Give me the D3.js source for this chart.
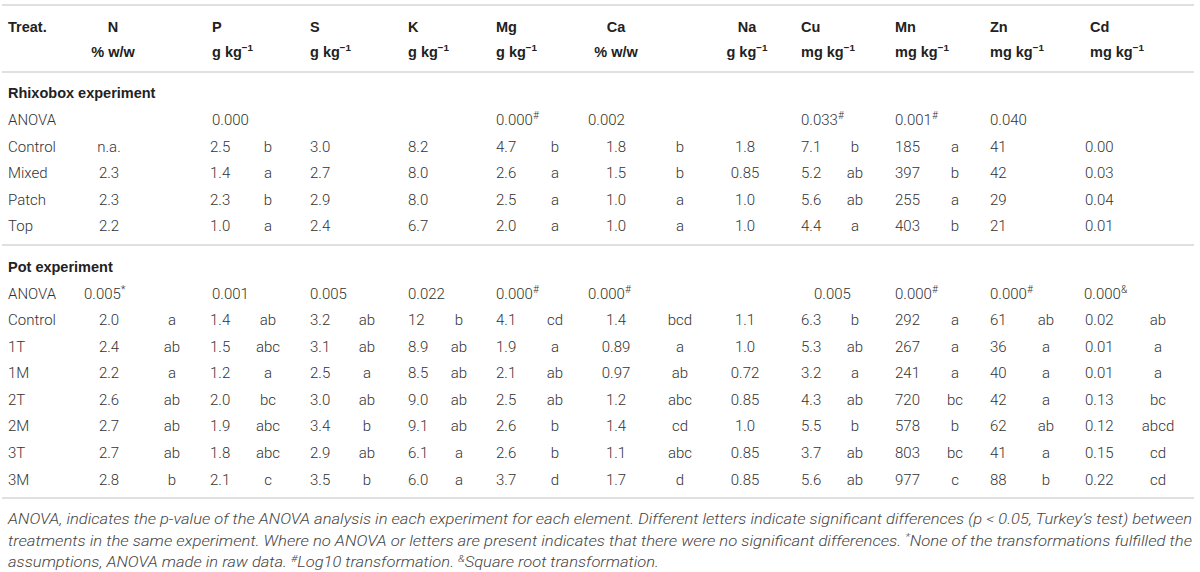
<!DOCTYPE html>
<html>
<head>
<meta charset="utf-8">
<script src="https://cdn.jsdelivr.net/npm/d3@7"></script>
<style>
  body { margin: 0; background: #fff; }
  svg { display: block; }
</style>
</head>
<body>
<div id="chart"></div>
<script>
// ---- data ----
const elements = ['N', 'P', 'S', 'K', 'Mg', 'Ca', 'Na', 'Cu', 'Mn', 'Zn', 'Cd'];
const units = ['% w/w', 'g kg^{−1}', 'g kg^{−1}', 'g kg^{−1}', 'g kg^{−1}', '% w/w', 'g kg^{−1}', 'mg kg^{−1}', 'mg kg^{−1}', 'mg kg^{−1}', 'mg kg^{−1}'];

const rhizoTreatments = ['Control', 'Mixed', 'Patch', 'Top'];
const rhizoAnova = ['', '0.000', '', '', '0.000^{#}', '0.002', '', '0.033^{#}', '0.001^{#}', '0.040', ''];
const rhizoValues = [
  ['n.a.', '2.5', '3.0', '8.2', '4.7', '1.8', '1.8', '7.1', '185', '41', '0.00'],
  ['2.3', '1.4', '2.7', '8.0', '2.6', '1.5', '0.85', '5.2', '397', '42', '0.03'],
  ['2.3', '2.3', '2.9', '8.0', '2.5', '1.0', '1.0', '5.6', '255', '29', '0.04'],
  ['2.2', '1.0', '2.4', '6.7', '2.0', '1.0', '1.0', '4.4', '403', '21', '0.01']
];
const rhizoLetters = [
  ['', 'b', '', '', 'b', 'b', '', 'b', 'a', '', ''],
  ['', 'a', '', '', 'a', 'b', '', 'ab', 'b', '', ''],
  ['', 'b', '', '', 'a', 'a', '', 'ab', 'a', '', ''],
  ['', 'a', '', '', 'a', 'a', '', 'a', 'b', '', '']
];

const potTreatments = ['Control', '1T', '1M', '2T', '2M', '3T', '3M'];
const potAnova = ['0.005^{*}', '0.001', '0.005', '0.022', '0.000^{#}', '0.000^{#}', '', '0.005', '0.000^{#}', '0.000^{#}', '0.000^{&}'];
const potValues = [
  ['2.0', '1.4', '3.2', '12', '4.1', '1.4', '1.1', '6.3', '292', '61', '0.02'],
  ['2.4', '1.5', '3.1', '8.9', '1.9', '0.89', '1.0', '5.3', '267', '36', '0.01'],
  ['2.2', '1.2', '2.5', '8.5', '2.1', '0.97', '0.72', '3.2', '241', '40', '0.01'],
  ['2.6', '2.0', '3.0', '9.0', '2.5', '1.2', '0.85', '4.3', '720', '42', '0.13'],
  ['2.7', '1.9', '3.4', '9.1', '2.6', '1.4', '1.0', '5.5', '578', '62', '0.12'],
  ['2.7', '1.8', '2.9', '6.1', '2.6', '1.1', '0.85', '3.7', '803', '41', '0.15'],
  ['2.8', '2.1', '3.5', '6.0', '3.7', '1.7', '0.85', '5.6', '977', '88', '0.22']
];
const potLetters = [
  ['a', 'ab', 'ab', 'b', 'cd', 'bcd', '', 'b', 'a', 'ab', 'ab'],
  ['ab', 'abc', 'ab', 'ab', 'a', 'a', '', 'ab', 'a', 'a', 'a'],
  ['a', 'a', 'a', 'ab', 'ab', 'ab', '', 'a', 'a', 'a', 'a'],
  ['ab', 'bc', 'ab', 'ab', 'ab', 'abc', '', 'ab', 'bc', 'a', 'bc'],
  ['ab', 'abc', 'b', 'ab', 'b', 'cd', '', 'b', 'b', 'ab', 'abcd'],
  ['ab', 'abc', 'ab', 'a', 'b', 'abc', '', 'ab', 'bc', 'a', 'cd'],
  ['b', 'c', 'b', 'a', 'd', 'd', '', 'ab', 'c', 'b', 'cd']
];

const captionLines = [
  'ANOVA, indicates the p-value of the ANOVA analysis in each experiment for each element. Different letters indicate significant differences (p < 0.05, Turkey\u2019s test) between',
  'treatments in the same experiment. Where no ANOVA or letters are present indicates that there were no significant differences. ^{*}None of the transformations fulfilled the',
  'assumptions, ANOVA made in raw data. ^{#}Log10 transformation. ^{&}Square root transformation.'
];

// ---- layout ----
const W = 1200, H = 572;
const bodyFont = 'Roboto, "Liberation Sans", sans-serif';
const headFont = '"Liberation Sans", Arial, sans-serif';
const textColor = '#333';

const cols = d3.range(elements.length);
const headX = d3.scaleOrdinal().domain(cols).range([113, 212, 310, 408, 496, 616, 747, 801, 895, 990, 1090]);
const headAnchor = d3.scaleOrdinal().domain(cols).range(['middle', 'start', 'start', 'start', 'start', 'middle', 'middle', 'start', 'start', 'start', 'start']);
const valueX = d3.scaleOrdinal().domain(cols).range([109, 210, 310, 408, 496, 616, 745, 801, 895, 990, 1085]);
const letterX = d3.scaleOrdinal().domain(cols).range([172, 268, 367, 459, 555, 680, 0, 855, 955, 1046, 1158]);
const rhizoAnovaX = d3.scaleOrdinal().domain(cols).range([84, 212, 310, 408, 496, 588, 0, 801, 895, 990, 1084]);
const potAnovaX = d3.scaleOrdinal().domain(cols).range([84, 212, 310, 408, 496, 588, 0, 814, 895, 990, 1084]);

const rowStep = d3.scaleLinear().domain([0, 1]).range([0, 26.6]);

const svg = d3.select('#chart').append('svg')
  .attr('width', W)
  .attr('height', H);

// text with ^{...} superscripts
function rich(g, str, x, y, opts) {
  const t = g.append('text')
    .attr('x', x)
    .attr('y', y)
    .attr('text-anchor', opts.anchor || 'start')
    .attr('font-family', opts.family || bodyFont)
    .attr('font-weight', opts.weight || 300)
    .attr('font-style', opts.style || 'normal')
    .attr('font-size', opts.size)
    .attr('fill', opts.fill || textColor);
  const parts = str.split(/(\^\{[^}]*\})/).filter(p => p.length);
  let back = 0;
  parts.forEach(p => {
    if (p.startsWith('^{')) {
      t.append('tspan')
        .attr('font-size', opts.size * 0.68)
        .attr('dy', -opts.size * 0.38)
        .text(p.slice(2, -1));
      back = opts.size * 0.38;
    } else {
      const s = t.append('tspan').text(p);
      if (back) s.attr('dy', back);
      back = 0;
    }
  });
  return t;
}

// rules
const rules = [5, 72, 245, 498];
svg.selectAll('line.rule').data(rules).enter().append('line')
  .attr('class', 'rule')
  .attr('x1', 2).attr('x2', 1194)
  .attr('y1', d => d).attr('y2', d => d)
  .attr('stroke', '#d6d6d6')
  .attr('stroke-width', 1.5);

// header
const head = svg.append('g');
const hOpts = { family: headFont, weight: 'bold', size: 14.5, fill: '#222' };
rich(head, 'Treat.', 8, 32, hOpts);
cols.forEach(i => {
  rich(head, elements[i], headX(i), 32, Object.assign({ anchor: headAnchor(i) }, hOpts));
  rich(head, units[i], headX(i), 57, Object.assign({ anchor: headAnchor(i) }, hOpts));
});

function section(title, titleY, anovaY, anova, anovaX, firstRowY, treatments, values, letters) {
  const g = svg.append('g');
  rich(g, title, 8, titleY + 5, hOpts);
  const bOpts = { size: 15 };
  rich(g, 'ANOVA', 8, anovaY + 5, bOpts);
  anova.forEach((a, i) => { if (a) rich(g, a, anovaX(i), anovaY + 5, bOpts); });
  treatments.forEach((tr, r) => {
    const y = firstRowY + rowStep(r) + 5;
    rich(g, tr, 8, y, bOpts);
    values[r].forEach((v, i) => {
      rich(g, v, valueX(i), y, Object.assign({ anchor: headAnchor(i) }, bOpts));
      if (letters[r][i]) rich(g, letters[r][i], letterX(i), y, Object.assign({ anchor: 'middle' }, bOpts));
    });
  });
}

section('Rhixobox experiment', 93, 120, rhizoAnova, rhizoAnovaX, 146.5, rhizoTreatments, rhizoValues, rhizoLetters);
section('Pot experiment', 267, 293.5, potAnova, potAnovaX, 320, potTreatments, potValues, potLetters);

// caption: narrow italic, first two lines justified to the table width
const cap = svg.append('g');
const capTexts = captionLines.map((line, i) =>
  rich(cap, line, 8, 524 + i * 21.5, { size: 14, style: 'italic', weight: 300, fill: '#444' }));
const natural = capTexts.map(t => t.node().getComputedTextLength());
const squeeze = 1184 / natural[0];
capTexts.forEach((t, i) => {
  t.attr('textLength', i < 2 ? 1184 : natural[i] * squeeze)
    .attr('lengthAdjust', 'spacingAndGlyphs');
});
</script>
</body>
</html>
